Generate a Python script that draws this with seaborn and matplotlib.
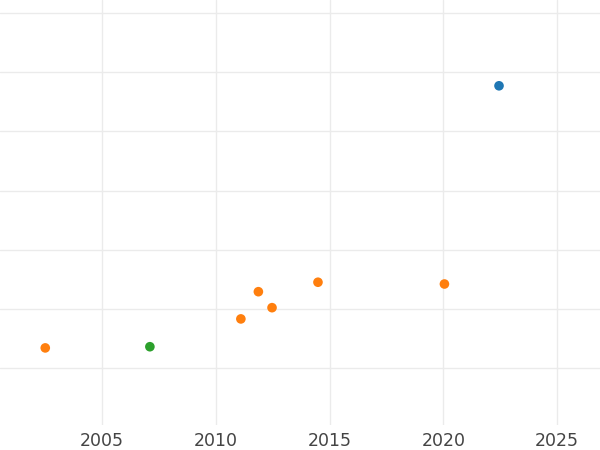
import matplotlib
matplotlib.use("Agg")
import matplotlib.pyplot as plt
import seaborn as sns
import pandas as pd

# values (y axis has no labels, units arbitrary)
years = [2002.5, 2007.1, 2011.1, 2011.87, 2012.47, 2014.49, 2020.05, 2022.45]
values = [1.34, 1.36, 1.83, 2.29, 2.02, 2.45, 2.42, 5.77]
groups = ["B", "C", "B", "B", "B", "B", "B", "A"]
group_order = ["A", "B", "C"]
x_ticks = [2005, 2010, 2015, 2020, 2025]

df = pd.DataFrame({"year": years, "value": values, "group": groups})

sns.set_theme(style="whitegrid")
plt.rcParams["font.family"] = ["DejaVu Sans"]

fig = plt.figure(figsize=(6, 4.5), dpi=100)
ax = fig.add_axes([0, 25 / 450, 1, 425 / 450])

sns.scatterplot(data=df, x="year", y="value", hue="group", hue_order=group_order,
                palette="tab10", s=48, linewidth=0, legend=False, ax=ax)

ax.set_xlim(2000.51, 2026.89)
ax.set_ylim(0.037, 7.22)
ax.set_xticks(x_ticks)
ax.set_yticks(range(1, 8))
ax.set_yticklabels([])
ax.tick_params(axis="x", labelsize=12.5, colors="#444444", length=0, pad=5)
ax.tick_params(axis="y", length=0)
ax.grid(True, color="#ebebeb", linewidth=1)
ax.set_xlabel("")
ax.set_ylabel("")
for s in ax.spines.values():
    s.set_visible(False)

fig.savefig("out.png", dpi=100)
